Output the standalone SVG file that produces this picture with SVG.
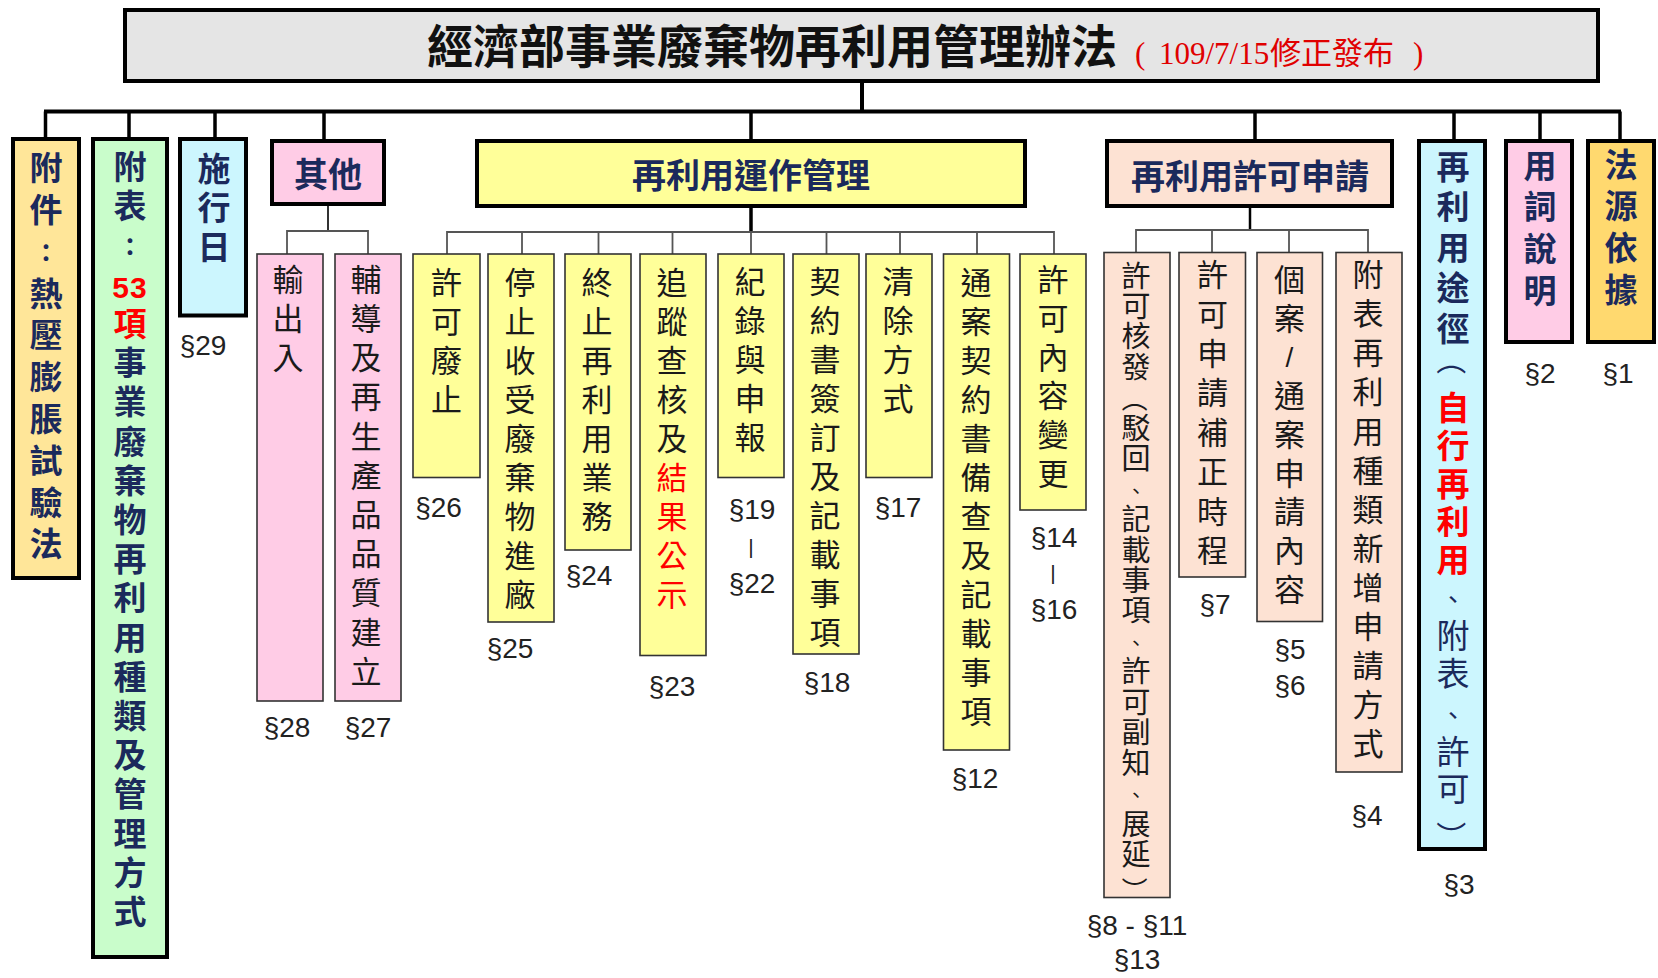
<svg xmlns="http://www.w3.org/2000/svg" width="1658" height="978" viewBox="0 0 1658 978">
<style>
text { font-family: "Noto Sans CJK TC", "Noto Sans CJK SC", sans-serif; }
.l2 { stroke:#000; stroke-width:4; }
.leaf { stroke:#333; stroke-width:1.6; }
.bus { stroke:#000; stroke-width:4; fill:none; }
.conn { stroke:#000; stroke-width:3.5; fill:none; }
.sub { stroke:#555; stroke-width:1.8; fill:none; }
.hd { font-size:34px; font-weight:700; fill:#1B2A5C; text-anchor:middle; dominant-baseline:central; }
.vb { font-size:33px; font-weight:700; fill:#1B2A5C; text-anchor:middle; dominant-baseline:central; }
.vr { font-size:33px; font-weight:400; fill:#1B2A5C; text-anchor:middle; dominant-baseline:central; }
.vn { font-size:31px; font-weight:400; fill:#1a1a1a; text-anchor:middle; dominant-baseline:central; }
.vs { font-size:29px; font-weight:400; fill:#1a1a1a; text-anchor:middle; dominant-baseline:central; }
.v { writing-mode:vertical-rl; text-anchor:start; }
.p25 { font-size:25px; }
.p20 { font-size:20px; }
.p26 { font-size:26px; }
.p30 { font-size:30px; }
.sec { font-family:"Liberation Sans", Arial, sans-serif; font-size:28px; fill:#222; text-anchor:middle; dominant-baseline:central; }
.bar { font-family:"Liberation Sans", Arial, sans-serif; font-size:21px; fill:#222; text-anchor:middle; dominant-baseline:central; }
.lat { font-family:"Liberation Sans", Arial, sans-serif; }
.red { fill:#FF0000; }
.title { font-size:46px; font-weight:700; fill:#111; }
.sub-title { font-family:"Liberation Serif", "Noto Sans CJK TC", serif; font-size:31px; fill:#E00000; }
.cjk { font-family:"Noto Sans CJK TC", sans-serif; }
.f-title { fill:#E5E5E5; }
.f-annex { fill:#FFE699; }
.f-green { fill:#C9FDCB; }
.f-cyan { fill:#CCF6FE; }
.f-pink { fill:#FFCCE6; }
.f-yellow { fill:#FFFF99; }
.f-peach { fill:#FDE2D3; }
.f-gold { fill:#FFD96F; }
</style>

<g id="connectors">
  <path class="bus" d="M44 111.5 H1621"/>
  <path class="bus" d="M862 81 V111.5"/>
  <path class="conn" d="M45.5 111.5 V139 M129 111.5 V139 M215 111.5 V139 M324 111.5 V141 M751 111.5 V141 M1255 111.5 V141 M1454 111.5 V141 M1540 111.5 V141 M1620 111.5 V141"/>
  <path d="M328 204 V231" stroke="#333" stroke-width="2" fill="none"/>
  <path class="sub" d="M287 254 V231 H368 V254"/>
  <path class="conn" d="M751 206 V232"/>
  <path class="sub" d="M447 254 V232 H1054 V254 M522 232 V254 M598.5 232 V254 M672.5 232 V254 M751 232 V254 M826.5 232 V254 M900 232 V254 M977 232 V254"/>
  <path d="M1250 206 V230" stroke="#000" stroke-width="2.5" fill="none"/>
  <path class="sub" d="M1136 252.5 V230 H1368 V252.5 M1212 230 V252.5 M1289 230 V252.5"/>
</g>

<g id="title">
  <rect class="f-title" x="125" y="10" width="1473" height="71" stroke="#000" stroke-width="4"/>
  <text class="title" x="427" y="63">經濟部事業廢棄物再利用管理辦法</text>
  <text class="sub-title" y="64"><tspan x="1135">(</tspan><tspan x="1159">109/7/15</tspan><tspan x="1270" class="cjk">修正發布</tspan><tspan x="1413">)</tspan></text>
</g>

<g id="n-annex">
  <rect class="l2 f-annex" x="13" y="139" width="66" height="439"/>
  <text class="vb v" x="46" y="151.2" style="letter-spacing:8.8px">附件</text>
  <text class="vb p25" x="46" y="251.3">：</text>
  <text class="vb v" x="46" y="276.6" style="letter-spacing:8.8px">熱壓膨脹試驗法</text>
</g>

<g id="n-table">
  <rect class="l2 f-green" x="93" y="139" width="74" height="818"/>
  <text class="vb v" x="130" y="150.2" style="letter-spacing:6.2px">附表</text>
  <text class="vb p25" x="130" y="245.1">：</text>
  <text class="vb red lat p30" x="130" y="287" style="letter-spacing:1px">53</text>
  <text class="vb v" x="130" y="307" style="letter-spacing:6.2px"><tspan class="red">項</tspan>事業廢棄物再利用種類及管理方式</text>
</g>

<g id="n-effective">
  <rect class="l2 f-cyan" x="180" y="139" width="66" height="176.5"/>
  <text class="vb v" x="214" y="151.5" style="letter-spacing:6.2px">施行日</text>
  <text class="sec" x="203" y="345">§29</text>
</g>

<g id="n-other">
  <rect class="l2 f-pink" x="272" y="141" width="112" height="63"/>
  <text class="hd" x="328" y="172">其他</text>
</g>

<g id="n-export">
  <rect class="leaf f-pink" x="257" y="254" width="66" height="447"/>
  <text class="vn v" x="288" y="263.5" style="letter-spacing:8.2px">輸出入</text>
  <text class="sec" x="287" y="727">§28</text>
</g>

<g id="n-guide">
  <rect class="leaf f-pink" x="335" y="254" width="66" height="447"/>
  <text class="vn v" x="366" y="263.5" style="letter-spacing:8.2px">輔導及再生產品品質建立</text>
  <text class="sec" x="368" y="727">§27</text>
</g>

<g id="n-operation">
  <rect class="l2 f-yellow" x="477" y="141" width="548" height="65"/>
  <text class="hd" x="751" y="173.5">再利用運作管理</text>
</g>

<g id="n-revoke">
  <rect class="leaf f-yellow" x="413" y="254" width="67" height="223.5"/>
  <text class="vn v" x="446.5" y="267" style="letter-spacing:8px">許可廢止</text>
  <text class="sec" x="438.5" y="507">§26</text>
</g>

<g id="n-stop">
  <rect class="leaf f-yellow" x="488" y="254" width="66" height="368"/>
  <text class="vn v" x="520" y="267" style="letter-spacing:8px">停止收受廢棄物進廠</text>
  <text class="sec" x="510" y="648">§25</text>
</g>

<g id="n-terminate">
  <rect class="leaf f-yellow" x="565" y="254" width="66" height="296"/>
  <text class="vn v" x="597" y="267" style="letter-spacing:8px">終止再利用業務</text>
  <text class="sec" x="589" y="575">§24</text>
</g>

<g id="n-audit">
  <rect class="leaf f-yellow" x="640" y="254" width="66" height="401.5"/>
  <text class="vn v" x="672" y="267" style="letter-spacing:8px">追蹤查核及<tspan class="red">結果公示</tspan></text>
  <text class="sec" x="672" y="686">§23</text>
</g>

<g id="n-record">
  <rect class="leaf f-yellow" x="718" y="254" width="66" height="223.5"/>
  <text class="vn v" x="750" y="265.5" style="letter-spacing:8px">紀錄與申報</text>
  <text class="sec" x="752" y="509">§19</text>
  <text class="bar" x="751" y="546">|</text>
  <text class="sec" x="752" y="583">§22</text>
</g>

<g id="n-contract">
  <rect class="leaf f-yellow" x="793" y="254" width="66" height="400"/>
  <text class="vn v" x="825" y="265.5" style="letter-spacing:8px">契約書簽訂及記載事項</text>
  <text class="sec" x="827" y="682">§18</text>
</g>

<g id="n-clear">
  <rect class="leaf f-yellow" x="866" y="254" width="66" height="223.5"/>
  <text class="vn v" x="898" y="265.5" style="letter-spacing:8px">清除方式</text>
  <text class="sec" x="898" y="507">§17</text>
</g>

<g id="n-general-contract">
  <rect class="leaf f-yellow" x="943.5" y="254" width="66" height="496"/>
  <text class="vn v" x="976" y="266.5" style="letter-spacing:8px">通案契約書備查及記載事項</text>
  <text class="sec" x="975" y="778">§12</text>
</g>

<g id="n-change">
  <rect class="leaf f-yellow" x="1020" y="254" width="66" height="256"/>
  <text class="vn v" x="1053" y="263.9" style="letter-spacing:7.7px">許可內容變更</text>
  <text class="sec" x="1054" y="537">§14</text>
  <text class="bar" x="1053" y="572">|</text>
  <text class="sec" x="1054" y="609">§16</text>
</g>

<g id="n-permit">
  <rect class="l2 f-peach" x="1107" y="141" width="285" height="65"/>
  <text class="hd" x="1250" y="174">再利用許可申請</text>
</g>

<g id="n-issue">
  <rect class="leaf f-peach" x="1104" y="252.5" width="66" height="645"/>
  <text class="vs v" x="1136" y="261" style="letter-spacing:1.45px">許可核發</text>
  <text class="vs p26" x="1136" y="399" transform="rotate(90 1136 399)">（</text>
  <text class="vs v" x="1136" y="413.25" style="letter-spacing:1.45px">駁回</text>
  <text class="vs p20" x="1136" y="490">、</text>
  <text class="vs v" x="1136" y="504.6" style="letter-spacing:1.45px">記載事項</text>
  <text class="vs p20" x="1136" y="642">、</text>
  <text class="vs v" x="1136" y="656.85" style="letter-spacing:1.45px">許可副知</text>
  <text class="vs p20" x="1136" y="794">、</text>
  <text class="vs v" x="1136" y="809.1" style="letter-spacing:1.45px">展延</text>
  <text class="vs p26" x="1136" y="890" transform="rotate(90 1136 890)">）</text>
  <text class="sec" x="1137" y="925">§8 - §11</text>
  <text class="sec" x="1137" y="959">§13</text>
</g>

<g id="n-correction">
  <rect class="leaf f-peach" x="1179" y="252.5" width="66.5" height="324.5"/>
  <text class="vn v" x="1212.5" y="258.9" style="letter-spacing:8.4px">許可申請補正時程</text>
  <text class="sec" x="1215" y="604">§7</text>
</g>

<g id="n-case">
  <rect class="leaf f-peach" x="1257" y="252.5" width="65.5" height="369"/>
  <text class="vn v" x="1289.5" y="263.9" style="letter-spacing:7.7px">個案</text>
  <text class="vn lat" x="1289.5" y="357" style="font-size:28px">/</text>
  <text class="vn v" x="1289.5" y="380" style="letter-spacing:7.7px">通案申請內容</text>
  <text class="sec" x="1290" y="649">§5</text>
  <text class="sec" x="1290" y="685">§6</text>
</g>

<g id="n-add-type">
  <rect class="leaf f-peach" x="1336" y="252.5" width="66" height="519.5"/>
  <text class="vn v" x="1368" y="258.9" style="letter-spacing:8.1px">附表再利用種類新增申請方式</text>
  <text class="sec" x="1367" y="815">§4</text>
</g>

<g id="n-route">
  <rect class="l2 f-cyan" x="1419" y="141" width="66" height="708"/>
  <text class="vb v" x="1453" y="149.5" style="letter-spacing:7.5px">再利用途徑</text>
  <text class="vr p30" x="1453" y="360" transform="rotate(90 1453 360)">（</text>
  <text class="vb v red" x="1453" y="390.5" style="letter-spacing:5px">自行再利用</text>
  <text class="vr p25" x="1453" y="598">、</text>
  <text class="vr v" x="1453" y="619" style="letter-spacing:5px">附表</text>
  <text class="vr p25" x="1453" y="713.5">、</text>
  <text class="vr v" x="1453" y="735" style="letter-spacing:4px">許可</text>
  <text class="vr p30" x="1453" y="836" transform="rotate(90 1453 836)">）</text>
  <text class="sec" x="1459" y="884">§3</text>
</g>

<g id="n-terms">
  <rect class="l2 f-pink" x="1506" y="141" width="66" height="201"/>
  <text class="vb v" x="1540" y="148.5" style="letter-spacing:8.7px">用詞說明</text>
  <text class="sec" x="1540" y="373">§2</text>
</g>

<g id="n-basis">
  <rect class="l2 f-gold" x="1588" y="141" width="66" height="201"/>
  <text class="vb v" x="1621" y="147.5" style="letter-spacing:8.8px">法源依據</text>
  <text class="sec" x="1618" y="373">§1</text>
</g>
</svg>
